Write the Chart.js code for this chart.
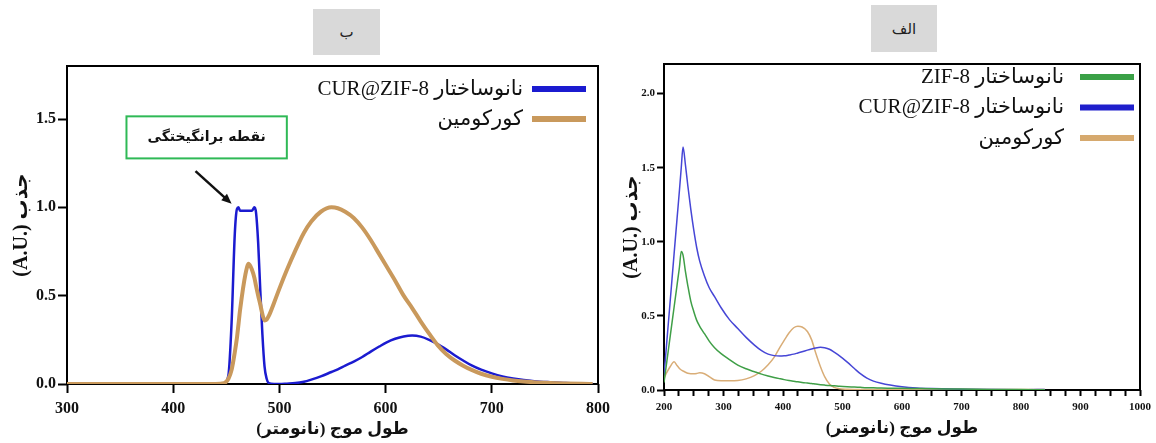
<!DOCTYPE html>
<html lang="fa">
<head>
<meta charset="utf-8">
<script src="https://cdn.jsdelivr.net/npm/chart.js@4"></script>
<style>
  html, body { margin: 0; padding: 0; background: #fff; }
  #page { position: relative; width: 1156px; height: 443px; overflow: hidden; }
  canvas { position: absolute; top: 0; }
  #chartB { left: 0; }
  #chartA { left: 620px; }
  .panelTag {
    position: absolute; background: #d9d9d9; color: #222;
    font: 15px "DejaVu Sans", sans-serif;
    display: flex; align-items: center; justify-content: center;
  }
</style>
</head>
<body>
<div id="page">
  <canvas id="chartB" width="620" height="443" dir="rtl"></canvas>
  <canvas id="chartA" width="536" height="443" dir="rtl"></canvas>
  <div class="panelTag" style="left:313px;top:9px;width:67px;height:46px;">ب</div>
  <div class="panelTag" style="left:871px;top:5px;width:66px;height:47px;">الف</div>
</div>
<script>
// panel ب : emission spectra (nm / a.u.)
const wavelengthsB = [300, 350, 400, 440, 448, 452, 455, 458, 460, 461.5, 463, 468, 471, 474, 476.5, 478,
  480, 482, 484, 486, 488, 490, 495, 500, 507, 515, 523, 530, 539, 549, 555, 562, 570, 578, 586, 594,
  601, 609, 617, 625, 633, 641, 649, 657, 665, 673, 681, 690, 700, 710, 720, 730, 740, 755, 770, 785, 795];
const curZifB = [0, 0.003, 0, 0, 0.005, 0.05, 0.35, 0.85, 0.99, 1.0, 0.98, 0.98, 0.98, 0.98, 1.0, 0.97,
  0.8, 0.53, 0.28, 0.1, 0.03, 0.005, 0, 0, 0.002, 0.005, 0.013, 0.025, 0.043, 0.068, 0.083, 0.104, 0.127, 0.153, 0.183, 0.212,
  0.236, 0.256, 0.269, 0.274, 0.268, 0.25, 0.226, 0.196, 0.163, 0.133, 0.105, 0.081, 0.06, 0.043, 0.031, 0.022, 0.016, 0.01, 0.005, 0.002, 0];
const curcuminB = [0, 0, 0, 0, 0.005, 0.03, 0.08, 0.18, 0.26, 0.34, 0.42, 0.62, 0.68, 0.65, 0.6, 0.555,
  0.5, 0.45, 0.395, 0.36, 0.365, 0.385, 0.46, 0.54, 0.645, 0.755, 0.855, 0.92, 0.975, 1.0, 0.995, 0.975, 0.94, 0.885, 0.815, 0.735,
  0.665, 0.585, 0.5, 0.43, 0.355, 0.285, 0.22, 0.17, 0.133, 0.104, 0.08, 0.058, 0.041, 0.029, 0.02, 0.014, 0.01, 0.006, 0.003, 0.001, 0];
const xTicksB = [300, 400, 500, 600, 700, 800];
const yTicksB = [0, 0.5, 1.0, 1.5];

// panel الف : absorption spectra
const wavelengthsA = [200, 205, 210, 217, 222, 226, 229, 232, 236, 240, 245, 250, 255, 260, 268, 276, 285, 296,
  310, 324, 338, 352, 364, 375, 385, 395, 402, 410, 418, 425, 432, 441, 448, 455, 463, 470, 478, 486, 495,
  508, 520, 530, 541, 552, 565, 580, 600, 625, 650, 700, 750, 800, 840];
const zifA = [0.05, 0.2, 0.35, 0.56, 0.71, 0.83, 0.935, 0.91, 0.8, 0.705, 0.6, 0.53, 0.47, 0.43, 0.38, 0.33, 0.285, 0.245,
  0.205, 0.168, 0.143, 0.123, 0.107, 0.095, 0.085, 0.076, 0.07, 0.064, 0.059, 0.055, 0.051, 0.047, 0.044, 0.04, 0.036, 0.033, 0.03, 0.028, 0.025,
  0.022, 0.02, 0.018, 0.016, 0.015, 0.013, 0.012, 0.011, 0.01, 0.009, 0.006, 0.004, 0.003, 0.002];
const curZifA = [0.1, 0.34, 0.58, 0.92, 1.16, 1.35, 1.5, 1.64, 1.52, 1.38, 1.22, 1.08, 0.96, 0.87, 0.77, 0.69, 0.63, 0.555,
  0.475, 0.415, 0.355, 0.303, 0.265, 0.242, 0.232, 0.229, 0.231, 0.236, 0.242, 0.25, 0.258, 0.269, 0.277, 0.284, 0.288, 0.285, 0.275, 0.255, 0.23,
  0.188, 0.145, 0.11, 0.08, 0.06, 0.045, 0.033, 0.022, 0.014, 0.01, 0.005, 0.003, 0.002, 0.004];
const curcuminA = [0.08, 0.12, 0.155, 0.19, 0.165, 0.145, 0.135, 0.128, 0.12, 0.113, 0.11, 0.11, 0.112, 0.116, 0.11, 0.09, 0.067, 0.062,
  0.062, 0.064, 0.075, 0.097, 0.128, 0.17, 0.22, 0.29, 0.335, 0.385, 0.42, 0.43, 0.425, 0.395, 0.34, 0.25, 0.157, 0.09, 0.04, 0.018, 0.008,
  0.005, 0.004, 0.004, 0.004, 0.004, 0.004, 0.004, 0.004, 0.004, 0.004, 0.004, 0.004, 0.004, 0.004];
const xTicksA = [200, 225, 250, 275, 300, 325, 350, 375, 400, 425, 450, 475, 500, 525, 550, 575, 600,
  625, 650, 675, 700, 725, 750, 775, 800, 825, 850, 875, 900, 925, 950, 975, 1000];
const xLabelsA = [200, 300, 400, 500, 600, 700, 800, 900, 1000];
const yTicksA = [0, 0.5, 1.0, 1.5, 2.0];

const serif = "'Liberation Serif', 'DejaVu Sans', serif";
const yTitle = "جذب \u2066(A.U.)\u2069";
const xTitle = "طول موج (نانومتر)";

function toPoints(xs, ys) {
  return xs.map((x, i) => ({ x: x, y: ys[i] }));
}

// black box around the plotting area
const frame = {
  id: "frame",
  beforeDatasetsDraw(chart) {
    const { ctx, chartArea: a } = chart;
    ctx.save();
    ctx.strokeStyle = "#000";
    ctx.lineWidth = 2;
    ctx.strokeRect(a.left, a.top, a.right - a.left, a.bottom - a.top);
    ctx.restore();
  }
};

// legend sitting inside the top right corner of the plot
const insideLegend = {
  id: "insideLegend",
  afterDraw(chart, args, opts) {
    const { ctx, chartArea: a } = chart;
    ctx.save();
    ctx.font = opts.font;
    ctx.direction = "rtl";
    ctx.textAlign = "right";
    ctx.textBaseline = "middle";
    chart.data.datasets.forEach((ds, i) => {
      const y = a.top + opts.top + i * opts.rowGap;
      const x1 = a.right - opts.right;
      ctx.strokeStyle = ds.legendColor;
      ctx.lineWidth = 6;
      ctx.beginPath();
      ctx.moveTo(x1 - opts.lineLen, y);
      ctx.lineTo(x1, y);
      ctx.stroke();
      ctx.fillStyle = "#111";
      ctx.fillText(ds.label, x1 - opts.lineLen - opts.gap, y);
    });
    ctx.restore();
  }
};

// green note box with an arrow to the excitation peak
const excitationNote = {
  id: "excitationNote",
  afterDatasetsDraw(chart, args, opts) {
    const { ctx, scales: { x, y } } = chart;
    const l = x.getPixelForValue(opts.box[0]), t = y.getPixelForValue(opts.box[1]);
    const r = x.getPixelForValue(opts.box[2]), b = y.getPixelForValue(opts.box[3]);
    ctx.save();
    ctx.strokeStyle = "#2fb956";
    ctx.lineWidth = 2;
    ctx.strokeRect(l, t, r - l, b - t);
    ctx.fillStyle = "#111";
    ctx.font = "bold 14px 'DejaVu Sans', sans-serif";
    ctx.direction = "rtl";
    ctx.textAlign = "center";
    ctx.textBaseline = "middle";
    ctx.fillText(opts.text, (l + r) / 2, (t + b) / 2);

    const x0 = x.getPixelForValue(opts.arrow[0]), y0 = y.getPixelForValue(opts.arrow[1]);
    const x2 = x.getPixelForValue(opts.arrow[2]), y2 = y.getPixelForValue(opts.arrow[3]);
    const ang = Math.atan2(y2 - y0, x2 - x0);
    const head = 11;
    ctx.strokeStyle = "#111";
    ctx.lineWidth = 2.5;
    ctx.beginPath();
    ctx.moveTo(x0, y0);
    ctx.lineTo(x2 - Math.cos(ang) * head * 0.8, y2 - Math.sin(ang) * head * 0.8);
    ctx.stroke();
    ctx.beginPath();
    ctx.moveTo(x2, y2);
    ctx.lineTo(x2 - head * Math.cos(ang - 0.4), y2 - head * Math.sin(ang - 0.4));
    ctx.lineTo(x2 - head * Math.cos(ang + 0.4), y2 - head * Math.sin(ang + 0.4));
    ctx.closePath();
    ctx.fill();
    ctx.restore();
  }
};

function axisTicks(list) {
  return scale => { scale.ticks = list.map(v => ({ value: v })); };
}

const chartB = new Chart(document.getElementById("chartB"), {
  type: "line",
  data: {
    datasets: [
      { label: "نانوساختار CUR@ZIF-8", data: toPoints(wavelengthsB, curZifB), borderColor: "#1b1bd0",
        legendColor: "#1b1bd0", borderWidth: 2.5, order: 1 },
      { label: "کورکومین", data: toPoints(wavelengthsB, curcuminB), borderColor: "#c9995c",
        legendColor: "#c9995c", borderWidth: 4, order: 0 }
    ]
  },
  options: {
    responsive: false,
    animation: false,
    layout: { padding: { top: 66, right: 22, left: 0, bottom: 0 } },
    elements: { point: { radius: 0 }, line: { cubicInterpolationMode: "monotone" } },
    scales: {
      x: {
        type: "linear", min: 300, max: 800,
        afterBuildTicks: axisTicks(xTicksB),
        afterFit: s => { s.height = 59; },
        grid: { drawOnChartArea: false, drawTicks: true, tickLength: 9, tickWidth: 2, tickColor: "#000" },
        border: { display: false },
        ticks: { color: "#111", padding: 6, maxRotation: 0, autoSkip: false,
          font: { family: serif, size: 16, weight: "bold" } },
        title: { display: true, text: xTitle, color: "#111", padding: { top: 0, bottom: 3 },
          font: { family: serif, size: 17, weight: "bold" } }
      },
      y: {
        min: 0, max: 1.8,
        afterBuildTicks: axisTicks(yTicksB),
        afterFit: s => { s.width = 67; },
        grid: { drawOnChartArea: false, drawTicks: true, tickLength: 9, tickWidth: 2, tickColor: "#000" },
        border: { display: false },
        ticks: { color: "#111", padding: 2, callback: v => v.toFixed(1),
          font: { family: serif, size: 16, weight: "bold" } },
        title: { display: true, text: yTitle, color: "#111", padding: { top: 10, bottom: 0 },
          font: { family: serif, size: 20, weight: "bold" } }
      }
    },
    plugins: {
      legend: { display: false },
      tooltip: { enabled: false },
      insideLegend: { font: "21px " + serif, top: 23, rowGap: 30, right: 12, lineLen: 54, gap: 9 },
      excitationNote: { text: "نقطه برانگیختگی", box: [356, 1.515, 507, 1.277], arrow: [421, 1.205, 455, 1.02] }
    }
  },
  plugins: [frame, insideLegend, excitationNote]
});

const chartA = new Chart(document.getElementById("chartA"), {
  type: "line",
  data: {
    datasets: [
      { label: "نانوساختار ZIF-8", data: toPoints(wavelengthsA, zifA), borderColor: "#3f9f47",
        legendColor: "#3aa046", borderWidth: 1.5 },
      { label: "نانوساختار CUR@ZIF-8", data: toPoints(wavelengthsA, curZifA), borderColor: "#4646d6",
        legendColor: "#1f1fcc", borderWidth: 1.5 },
      { label: "کورکومین", data: toPoints(wavelengthsA, curcuminA), borderColor: "#d9ad77",
        legendColor: "#d6a96e", borderWidth: 1.5 }
    ]
  },
  options: {
    responsive: false,
    animation: false,
    layout: { padding: { top: 64, right: 13, left: 0, bottom: 0 } },
    elements: { point: { radius: 0 }, line: { cubicInterpolationMode: "monotone" } },
    scales: {
      x: {
        type: "linear", min: 200, max: 1000,
        afterBuildTicks: axisTicks(xTicksA),
        afterFit: s => { s.height = 53; },
        grid: { drawOnChartArea: false, drawTicks: true, tickLength: 6, tickWidth: 2, tickColor: "#000" },
        border: { display: false },
        ticks: { color: "#111", padding: 5, maxRotation: 0, autoSkip: false,
          callback: v => (xLabelsA.includes(v) ? v : ""),
          font: { family: serif, size: 11, weight: "bold" } },
        title: { display: true, text: xTitle, color: "#111", padding: { top: 0, bottom: 4 },
          font: { family: serif, size: 17, weight: "bold" } }
      },
      y: {
        min: 0, max: 2.2,
        afterBuildTicks: axisTicks(yTicksA),
        afterFit: s => { s.width = 44; },
        grid: { drawOnChartArea: false, drawTicks: true, tickLength: 7, tickWidth: 2, tickColor: "#000" },
        border: { display: false },
        ticks: { color: "#111", padding: 2, callback: v => v.toFixed(1),
          font: { family: serif, size: 11, weight: "bold" } },
        title: { display: true, text: yTitle, color: "#111", padding: { top: 0, bottom: 0 },
          font: { family: serif, size: 20, weight: "bold" } }
      }
    },
    plugins: {
      legend: { display: false },
      tooltip: { enabled: false },
      insideLegend: { font: "21px " + serif, top: 13, rowGap: 30.5, right: 6, lineLen: 54, gap: 16 }
    }
  },
  plugins: [frame, insideLegend]
});
</script>
</body>
</html>
